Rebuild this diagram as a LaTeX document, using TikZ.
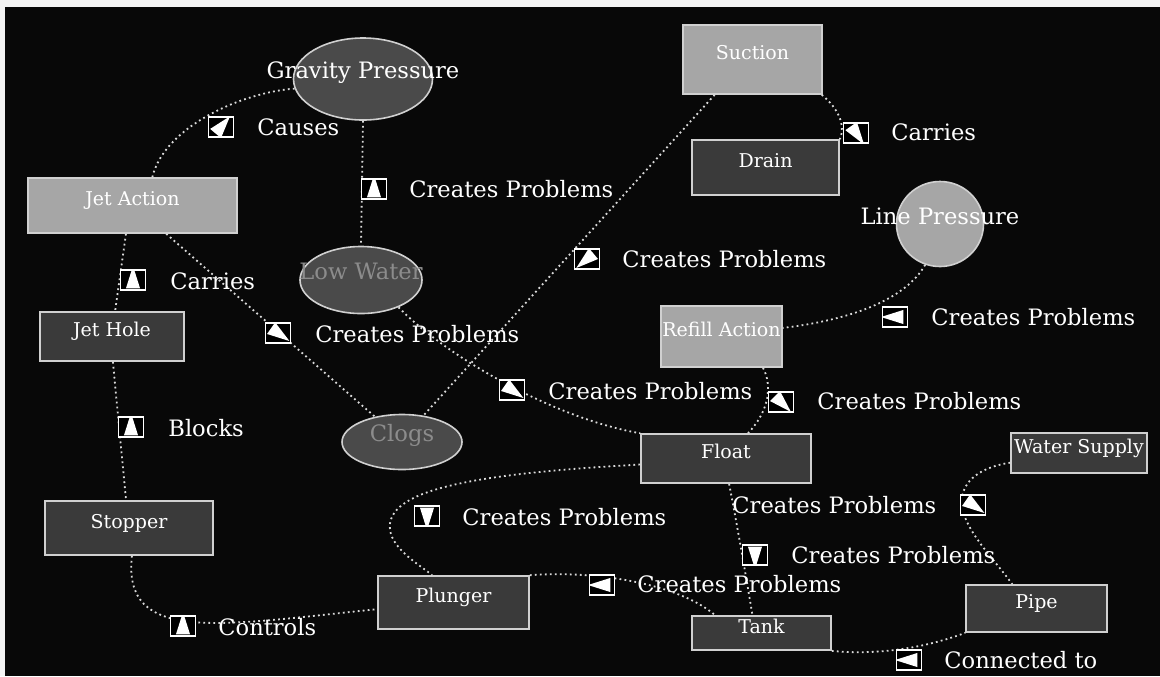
\documentclass[tikz,border=0pt]{standalone}
\usepackage{fontspec}
\setmainfont{DejaVu Serif}
\usetikzlibrary{shapes.geometric,calc}
\definecolor{bord}{HTML}{D0D0D0}
\definecolor{darkf}{HTML}{3A3A3A}
\definecolor{ellf}{HTML}{4A4A4A}
\definecolor{lightf}{HTML}{A6A6A6}
\definecolor{dotc}{HTML}{DADADA}
\definecolor{grayt}{HTML}{8C8C8C}
\definecolor{bgpage}{HTML}{F4F4F4}
\definecolor{bgblack}{HTML}{080808}
\newcommand\boxfont{\fontsize{9.5}{11}\selectfont}
\newcommand\ellfont{\fontsize{11.3}{13}\selectfont}
\newcommand\edgefont{\fontsize{11.3}{13}\selectfont}
\begin{document}
\begin{tikzpicture}[x=0.5pt,y=-0.5pt,
  shapebase/.style={draw=bord, line width=0.8pt, inner sep=0pt, text=white, text height=1.4ex},
  darkbox/.style={shapebase, rectangle, fill=darkf, font=\boxfont, text depth=7pt},
  lightbox/.style={shapebase, rectangle, fill=lightf, font=\boxfont, text depth=7pt},
  darkell/.style={shapebase, ellipse, fill=ellf, font=\ellfont, text depth=7.5pt},
  lightell/.style={shapebase, ellipse, fill=lightf, font=\ellfont, text depth=7pt},
  conn/.style={draw=dotc, line width=0.9pt, dash pattern=on 0.9pt off 1.6pt},
  icon/.style={draw=white, fill=black, line width=0.7pt, minimum width=12.5pt, minimum height=10pt, inner sep=0pt,
     path picture={\fill[white] ($(path picture bounding box.center)+(#1:7pt)$) -- ($(path picture bounding box.center)+(#1+140:5.5pt)$) -- ($(path picture bounding box.center)+(#1-140:5.5pt)$) -- cycle;}},
  elabel/.style={anchor=west, inner sep=0pt, text=white, font=\edgefont, text height=1.4ex, text depth=0pt}
]
\useasboundingbox (0,0) rectangle (1160,676);
\fill[bgpage] (0,0) rectangle (1160,676);
\fill[bgblack] (5,7) rectangle (1160,676);

% concept nodes
\node[darkell, minimum width=69.5pt, minimum height=41pt] (GP) at (363,79) {\makebox[0pt]{Gravity Pressure}};
\node[darkell, text=grayt, minimum width=61pt, minimum height=33.5pt] (LW) at (361,280) {\makebox[0pt]{Low Water}};
\node[darkell, text=grayt, minimum width=60pt, minimum height=27.5pt] (Clogs) at (402,442) {\makebox[0pt]{Clogs}};
\node[lightell, minimum width=43.5pt, minimum height=42.5pt] (LP) at (940,224) {\makebox[0pt]{Line Pressure}};
\node[lightbox, minimum width=104.5pt, minimum height=27.5pt] (JA) at (132.5,205.5) {\makebox[0pt]{Jet Action}};
\node[darkbox, minimum width=72pt, minimum height=24.5pt] (JH) at (112,336.5) {\makebox[0pt]{Jet Hole}};
\node[darkbox, minimum width=84pt, minimum height=27pt] (Stopper) at (129,528) {\makebox[0pt]{Stopper}};
\node[darkbox, minimum width=75.5pt, minimum height=26.5pt] (Plunger) at (453.5,602.5) {\makebox[0pt]{Plunger}};
\node[lightbox, minimum width=69.5pt, minimum height=34.5pt] (Suction) at (752.5,59.5) {\makebox[0pt]{Suction}};
\node[darkbox, minimum width=73.5pt, minimum height=27.5pt] (Drain) at (765.5,167.5) {\makebox[0pt]{Drain}};
\node[lightbox, minimum width=60.5pt, minimum height=30.5pt] (Refill) at (721.5,336.5) {\makebox[0pt]{Refill Action}};
\node[darkbox, minimum width=85pt, minimum height=24.5pt] (Float) at (726,458.5) {\makebox[0pt]{Float}};
\node[darkbox, minimum width=69.5pt, minimum height=17pt] (Tank) at (761.5,633) {\makebox[0pt]{Tank}};
\node[darkbox, minimum width=68pt, minimum height=20pt] (WS) at (1079,453) {\makebox[0pt]{Water Supply}};
\node[darkbox, minimum width=70.5pt, minimum height=23.5pt] (Pipe) at (1036.5,608.5) {\makebox[0pt]{Pipe}};

% connectors
\draw[conn] (GP.188) .. controls (245,92) and (165,125) .. (JA.55);
\draw[conn] (GP.south) -- (LW.north);
\draw[conn] (JA.257) -- (JH.83);
\draw[conn] (JA.320) -- (Clogs.137);
\draw[conn] (JH.272) -- (Stopper.96);
\draw[conn] (Stopper.276) .. controls (122,645) and (220,625) .. (Plunger.185);
\draw[conn] (Float.184) .. controls (470,474) and (385,490) .. (390,530) .. controls (393,550) and (420,565) .. (Plunger.128);
\draw[conn] (Suction.333) .. controls (838,108) and (846,125) .. (Drain.north east);
\draw[conn] (Suction.223) -- (Clogs.51);
\draw[conn] (LP.250) .. controls (905,300) and (850,320) .. (Refill.8);
\draw[conn] (LW.324) .. controls (450,360) and (560,420) .. (Float.north west);
\draw[conn] (Refill.323) .. controls (772,385) and (770,410) .. (Float.49);
\draw[conn] (Float.277) .. controls (737,525) and (745,570) .. (Tank.117);
\draw[conn] (WS.188) .. controls (975,468) and (960,485) .. (962,505) .. controls (964,530) and (995,560) .. (Pipe.135);
\draw[conn] (Plunger.north east) .. controls (600,570) and (680,585) .. (Tank.159);
\draw[conn] (Tank.south east) .. controls (870,655) and (920,650) .. (Pipe.south west);

% link icons and labels
\node[icon=50] (i1) at (221,127) {};
\node[elabel] (l1) at (257,128) {Causes};
\node[icon=90] (i2) at (374,189) {};
\node[elabel] (l2) at (409,190) {Creates Problems};
\node[icon=90] (i3) at (133,280) {};
\node[elabel] (l3) at (170,282) {Carries};
\node[icon=-35] (i4) at (278,333) {};
\node[elabel] (l4) at (315,335) {Creates Problems};
\node[icon=90] (i5) at (131,427) {};
\node[elabel] (l5) at (168,429) {Blocks};
\node[icon=90] (i6) at (183,626) {};
\node[elabel] (l6) at (218,628) {Controls};
\node[icon=-90] (i7) at (427,516) {};
\node[elabel] (l7) at (462,518) {Creates Problems};
\node[icon=-55] (i8) at (856,133) {};
\node[elabel] (l8) at (891,133) {Carries};
\node[icon=-140] (i9) at (587,259) {};
\node[elabel] (l9) at (622,260) {Creates Problems};
\node[icon=180] (i10) at (895,317) {};
\node[elabel] (l10) at (931,318) {Creates Problems};
\node[icon=-35] (i11) at (512,390) {};
\node[elabel] (l11) at (548,392) {Creates Problems};
\node[icon=-45] (i12) at (781,402) {};
\node[elabel] (l12) at (817,402) {Creates Problems};
\node[icon=-90] (i13) at (755,555) {};
\node[elabel] (l13) at (791,556) {Creates Problems};
\node[icon=-35] (i14) at (973,505) {};
\node[elabel] (l14) at (732,506) {Creates Problems};
\node[icon=180] (i15) at (602,585) {};
\node[elabel] (l15) at (637,585) {Creates Problems};
\node[icon=180] (i16) at (909,660) {};
\node[elabel] (l16) at (944,661) {Connected to};
\end{tikzpicture}
\end{document}
